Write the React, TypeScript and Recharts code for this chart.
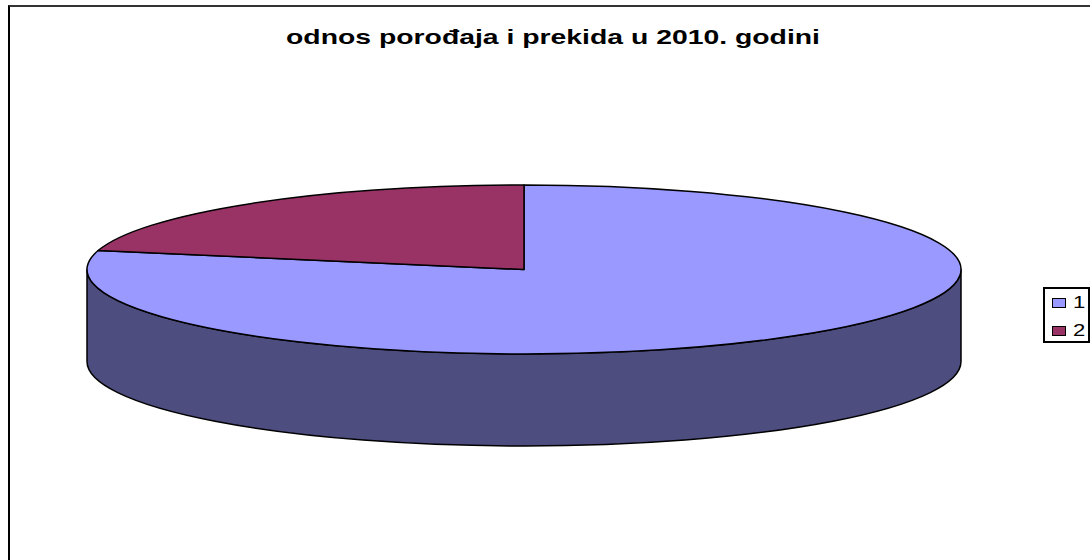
import React from "react";
import { PieChart, Pie, Cell, Legend } from "recharts";

const categories = ["1", "2"];
const seriesValues = [78.6, 21.4];
const colours = ["#9999ff", "#993366"];
const sideColour = "#4d4d80";
const titleText = "odnos porođaja i prekida u 2010. godini";

const W = 1090, H = 560, CX = 524, CY = 269.5, RX = 437, TILT = 84.5 / 437, DEPTH = 92;
const data = categories.map((name, i) => ({ name, value: seriesValues[i] }));
const rad = (d: number) => (d * Math.PI) / 180;

function TopSlice(p: any) {
  const rx = p.outerRadius, ry = rx * TILT;
  const pt = (a: number) => `${p.cx + rx * Math.cos(rad(a))} ${p.cy - ry * Math.sin(rad(a))}`;
  const large = Math.abs(p.startAngle - p.endAngle) > 180 ? 1 : 0;
  const d = `M${p.cx} ${p.cy}L${pt(p.startAngle)}A${rx} ${ry} 0 ${large} 1 ${pt(p.endAngle)}Z`;
  return <path d={d} fill={colours[p.index ?? 0]} stroke="#000" strokeWidth={1.5} strokeLinejoin="round" />;
}

function SideSlice(p: any) {
  const rx = p.outerRadius, ry = rx * TILT;
  const from = Math.min(p.startAngle, 0), to = Math.max(p.endAngle, -180);
  if (from <= to) return <g />;
  const x = (a: number) => p.cx + rx * Math.cos(rad(a));
  const y = (a: number) => p.cy - ry * Math.sin(rad(a));
  const d = `M${x(from)} ${y(from)}A${rx} ${ry} 0 0 1 ${x(to)} ${y(to)}L${x(to)} ${y(to) + DEPTH}A${rx} ${ry} 0 0 0 ${x(from)} ${y(from) + DEPTH}Z`;
  return <path d={d} fill={sideColour} stroke="#000" strokeWidth={1.5} strokeLinejoin="round" />;
}

function LegendBox({ payload }: any) {
  const seen = new Set<string>();
  const entries = (payload || []).filter((e: any) => {
    if (seen.has(String(e.value))) return false;
    seen.add(String(e.value));
    return true;
  });
  return (
    <div style={{ position: "relative", boxSizing: "border-box", width: 47, height: 56, border: "2px solid #000", background: "#fff", fontFamily: "'Liberation Sans', Arial, sans-serif", fontSize: 17, lineHeight: "17px", color: "#000" }}>
      {entries.map((e: any, i: number) => (
        <div key={e.value} style={{ position: "absolute", left: 7, top: 5 + i * 28, height: 17, display: "flex", alignItems: "center" }}>
          <span style={{ display: "inline-block", boxSizing: "border-box", width: 14, height: 10, background: colours[i], border: "1.5px solid #000", marginRight: 7 }} />
          <span style={{ display: "inline-block", transform: "scaleX(1.3)", transformOrigin: "left center" }}>{e.value}</span>
        </div>
      ))}
    </div>
  );
}

export default function App() {
  return (
    <div style={{ position: "absolute", left: 0, top: 0, width: W, height: H, overflow: "hidden", background: "#fff" }}>
      <div style={{ position: "absolute", left: 8, top: 5, width: W - 8, height: H - 5, boxSizing: "border-box", borderLeft: "2px solid #000", borderTop: "2px solid #333" }} />
      <div style={{ position: "absolute", left: 0, top: 0 }}>
        <PieChart width={W} height={H} margin={{ top: 0, right: 0, bottom: 0, left: 0 }}>
          <text x={286} y={44} textLength={534} lengthAdjust="spacingAndGlyphs" fontFamily="'Liberation Sans', Arial, sans-serif" fontWeight="bold" fontSize={21} fill="#000">{titleText}</text>
          <Pie data={data} dataKey="value" nameKey="name" cx={CX} cy={CY} outerRadius={RX} startAngle={90} endAngle={-270} legendType="none" shape={SideSlice} isAnimationActive={false} labelLine={false} />
          <Pie data={data} dataKey="value" nameKey="name" cx={CX} cy={CY} outerRadius={RX} startAngle={90} endAngle={-270} shape={TopSlice} isAnimationActive={false} labelLine={false}>
            {categories.map((c, i) => <Cell key={c} fill={colours[i]} />)}
          </Pie>
          <Legend content={<LegendBox />} wrapperStyle={{ position: "absolute", left: 1043, top: 287, width: 47, height: 56, bottom: "auto", right: "auto" }} />
        </PieChart>
      </div>
    </div>
  );
}
